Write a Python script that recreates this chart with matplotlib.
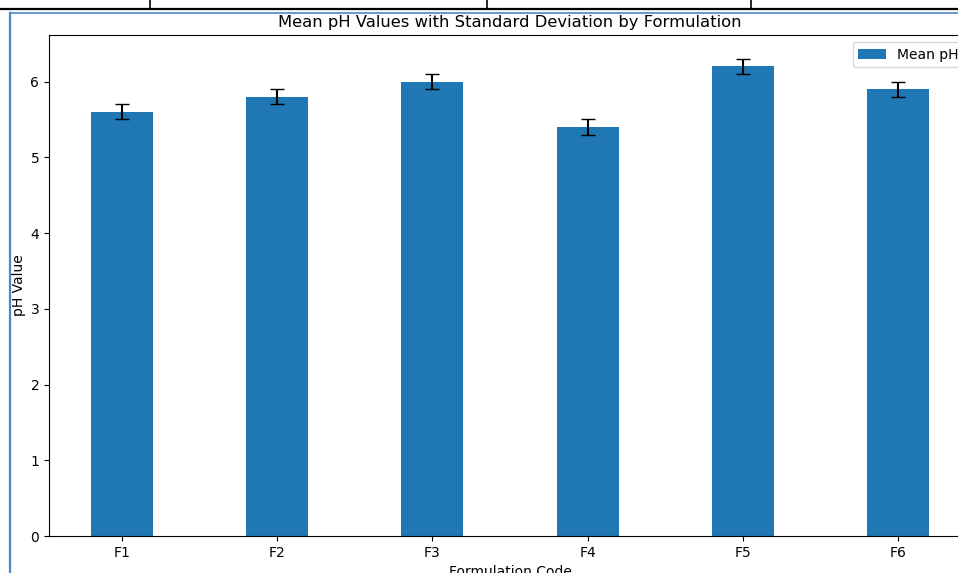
import matplotlib
matplotlib.use("Agg")
import matplotlib.pyplot as plt
from matplotlib.lines import Line2D

formulacoes = ["F1", "F2", "F3", "F4", "F5", "F6"]
ph_medio = [5.6, 5.8, 6.0, 5.4, 6.2, 5.9]
desvio = [0.1, 0.1, 0.1, 0.1, 0.1, 0.1]

W, H = 958, 573
fig = plt.figure(figsize=(W / 100, H / 100), dpi=100)

def px(x0, y0, x1, y1):
    # caixa em pixels (origem em cima à esquerda) -> fração da figura
    return [x0 / W, 1 - y1 / H, (x1 - x0) / W, (y1 - y0) / H]

# moldura do screenshot (tabela em cima e quadro azul)
fig.add_artist(Line2D([0, 1], [1 - 8.5 / H] * 2, color="black", lw=1.6, transform=fig.transFigure))
for xv in [150, 487, 751]:
    fig.add_artist(Line2D([xv / W] * 2, [1, 1 - 8.5 / H], color="black", lw=1.2, transform=fig.transFigure))
fig.add_artist(Line2D([10 / W, 1], [1 - 12.5 / H] * 2, color="#5b8fd0", lw=1.3, transform=fig.transFigure))
fig.add_artist(Line2D([10 / W] * 2, [0, 1 - 12.5 / H], color="#4f86c6", lw=1.6, transform=fig.transFigure))

ax = fig.add_axes(px(49, 35, 971, 536))
ax.bar(formulacoes, ph_medio, width=0.4, yerr=desvio, capsize=5, color="#1f77b4", label="Mean pH")
ax.set_title("Mean pH Values with Standard Deviation by Formulation", fontsize=11.8)
ax.set_xlabel("Formulation Code")
ax.set_ylabel("pH Value", labelpad=3)
ax.legend(loc="upper right")

fig.savefig("out.png", dpi=100)
